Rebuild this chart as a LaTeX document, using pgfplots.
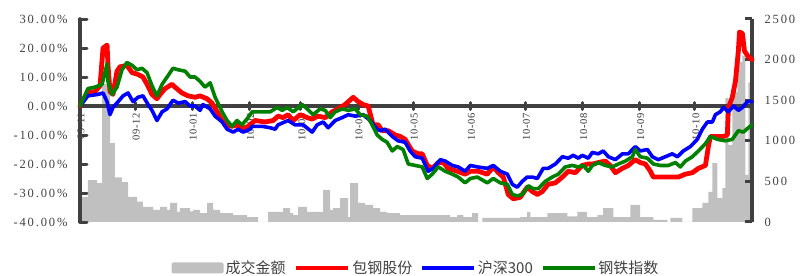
\documentclass[border=0pt]{standalone}
\usepackage{fontspec}
\usepackage{pgfplots}
\pgfplotsset{compat=1.18}
\setmainfont{Liberation Serif}
\newfontfamily\tickfont[LetterSpace=15]{Liberation Serif}
\newfontfamily\xtickfont[LetterSpace=6]{Liberation Serif}
\newfontfamily\cjk{Noto Sans CJK SC}
\definecolor{axisgray}{HTML}{404040}
\definecolor{bargray}{HTML}{C0C0C0}
\definecolor{bgreen}{HTML}{008000}
\pgfplotsset{
  thickaxis/.style={
    axis line style={line width=3.2pt, color=axisgray, -},
    every outer x axis line/.append style={line width=3.2pt, color=axisgray},
    every inner x axis line/.append style={line width=3.2pt, color=axisgray},
    every outer y axis line/.append style={line width=3.2pt, color=axisgray},
    every inner y axis line/.append style={line width=3.2pt, color=axisgray},
    every tick/.append style={line width=3pt, color=axisgray},
    major tick style={line width=3pt, color=axisgray},
  }
}
\begin{document}
\begin{tikzpicture}[x=1pt,y=1pt]
\useasboundingbox (-80,-54) rectangle (732,222);
% ---------- turnover (right axis) ----------
\begin{axis}[
  at={(0,0)}, anchor=south west, scale only axis,
  width=672pt, height=203pt,
  xmin=0, xmax=365, ymin=0, ymax=2500,
  axis x line=none, axis y line*=right,
  thickaxis, axis on top, clip=false,
  ytick={0,500,1000,1500,2000,2500}, ytick align=inside,
  major tick length=7pt,
  /pgf/number format/assume math mode=true,
  yticklabel style={font=\fontsize{12.5}{14}\selectfont\tickfont, text=axisgray, xshift=9pt},
  yticklabel={\pgfmathprintnumber[fixed,precision=0,1000 sep={}]{\tick}},
]
\addplot[fill=bargray, draw=none, const plot mark left] coordinates {
(0,310) (4.3,515) (9.2,480) (12,1700) (16.3,970) (19,550) (22.8,490) (26.1,310)
(31,250) (34.2,185) (39.7,150) (43.5,185) (47.3,150) (48.9,235) (52.7,125) (54.3,170)
(59.8,130) (61.4,150) (65.2,110) (69,235) (72.3,150) (76.1,110) (83.2,85) (90.8,60)
(96.7,0) (102.2,125) (110.3,170) (114.1,110) (115.8,85) (118.5,185) (123.4,125)
(132.1,395) (135.9,150) (137.5,170) (141.3,295) (145.7,60) (146.7,480) (151.1,235)
(154.9,210) (159.2,170) (163,125) (166.8,110) (173.9,85) (201.1,60) (204.9,85)
(208.2,60) (213,110) (216.3,0) (218.5,50) (239.1,60) (242.9,125) (244.6,60)
(253.8,110) (264.7,70) (270.1,125) (275.5,60) (281,85) (284.2,170) (289.7,60)
(298.9,210) (304.3,60) (311.4,25) (319,0) (320.7,50) (327.2,0) (332.6,170)
(338,235) (341.3,370) (343.5,725) (346.2,295) (348.9,420) (350.5,1525) (352.2,950)
(354.3,1600) (357.1,1970) (359.8,2050) (361.4,580) (363,1720) (365,1720)
} \closedcycle;
\draw[axisgray, line width=3.2pt] (rel axis cs:1,0) -- (rel axis cs:1,1);
\end{axis}
% ---------- returns (left axis) ----------
\begin{axis}[
  at={(0,0)}, anchor=south west, scale only axis,
  width=672pt, height=203pt,
  xmin=0, xmax=365, ymin=-40, ymax=30,
  axis x line=middle, axis y line=left,
  thickaxis, clip=false,
  hide obscured x ticks=false, hide obscured y ticks=false,
  xtick={0,30,61,92,120,151,181,212,242,273,304,334},
  xticklabels={09-11,09-12,10-01,10-02,10-03,10-04,10-05,10-06,10-07,10-08,10-09,10-10},
  xtick align=center, ytick align=inside,
  major tick length=7pt,
  ytick={-40,-30,-20,-10,0,10,20,30},
  /pgf/number format/assume math mode=true,
  yticklabel={\pgfmathprintnumber[fixed,fixed zerofill,precision=2]{\tick}\%},
  yticklabel style={font=\fontsize{12.5}{14}\selectfont\tickfont, text=axisgray, xshift=-9pt},
  xticklabel style={font=\fontsize{10.5}{12}\selectfont\xtickfont, text=black!80, rotate=90, anchor=east, yshift=-1pt},
  legend columns=-1,
  legend style={at={(0.5,-0.2266)}, anchor=center, draw=none, fill=none,
    font=\fontsize{15}{16}\selectfont\cjk, text=axisgray, inner sep=0pt,
    /tikz/every even column/.append style={column sep=6pt}},
  legend image code/.code={\draw[#1] (0pt,0pt) -- (52pt,0pt);},
  line join=round, line cap=round,
]
\draw[axisgray, line width=3.2pt] (rel axis cs:0,0) -- (rel axis cs:0,1);
\addlegendimage{fill=bargray, draw=none, legend image code/.code={\fill[bargray, rounded corners=1.5pt] (0pt,-5.5pt) rectangle (52pt,5.5pt);}}
\addlegendentry{成交金额}
% 包钢股份
\addplot[red, line width=4.8pt] coordinates {
(0,0) (4.3,4.5) (8.2,5) (10.9,7) (12.5,20) (14.7,21) (15.2,14) (16.3,5) (17.9,4)
(20.1,12) (21.7,13.5) (25.5,14) (28.3,11.5) (31,11) (34.2,10) (36.4,7.5) (39.1,4)
(41.8,2.5) (43.5,4) (46.2,6) (50,7.5) (51.6,6.5) (55.4,4.5) (58.7,3.5) (62.5,3)
(65.2,3.5) (69,2.5) (71.7,1) (74.5,-2) (77.2,-5) (79.9,-6.5) (82.6,-7) (85.3,-6.5)
(88,-8) (91.3,-7) (95.1,-5) (100.5,-5.5) (104.9,-5) (107.6,-3.5) (110.3,-4) (113,-3)
(115.8,-5) (119.6,-3) (123.4,-4) (126.1,-4.5) (129.3,-3.5) (133.2,-4) (137,-2)
(140.2,-1) (144,0.5) (148.4,3) (151.1,1.5) (153.8,0.5) (156.5,0) (159.2,-6.5)
(162,-6.5) (164.1,-8.5) (167.4,-8.5) (171.2,-10) (173.9,-10.5) (176.6,-11.5)
(180.4,-15.5) (183.7,-16.5) (185.9,-16.5) (188.6,-20.5) (191.3,-21.5) (194.6,-19.5)
(197.3,-19.5) (200,-21.5) (204.9,-22.5) (209.2,-23.5) (212,-22.5) (216.3,-22.5)
(221.2,-23.5) (224.5,-21) (227.2,-23) (229.9,-24.5) (232.6,-30.5) (235.3,-32)
(239.1,-31.5) (242.9,-28) (245.7,-29.5) (248.4,-30.5) (251.1,-29.5) (254.3,-27)
(258.2,-26.5) (262,-24.5) (265.2,-22.5) (269,-23) (272.8,-20.5) (276.1,-20)
(278.3,-20) (281.5,-19.5) (285.3,-19) (288,-20.5) (290.8,-23) (294.6,-21.5)
(297.8,-20.5) (301.6,-18.5) (304.3,-19.5) (307.1,-20) (309.8,-22.5) (311.4,-24.5)
(316.3,-24.5) (321.7,-24.5) (325,-24.5) (328.8,-23.5) (332.6,-23) (335.9,-21.5)
(339.7,-20.5) (341.3,-14) (342.4,-10.5) (346.2,-10.5) (349.5,-10.5) (351.6,-10)
(352.2,-0.5) (354.3,3) (356,8.5) (357.6,19) (358.2,25.5) (359.8,25) (360.9,19)
(363,17) (365,16)
};
\addlegendentry{包钢股份}
% 沪深300
\addplot[blue, line width=3.6pt] coordinates {
(0,0) (4.3,3.5) (9.8,4) (12.5,4.5) (14.7,1.5) (16.3,-3) (17.9,-0.5) (20.7,1.5)
(23.4,3.5) (26.1,4.5) (28.8,1.5) (31.5,3) (34.2,3.5) (37,0.5) (39.1,-1.5) (41.8,-5)
(44.6,-2) (47.3,-1) (50.5,2) (53.3,1) (57.1,1.5) (59.8,0) (62.5,0) (65.2,-1.5)
(66.8,0.5) (70.7,-1) (73.4,-3.5) (77.2,-5.5) (79.9,-8) (83.2,-9) (85.9,-8) (88.6,-9)
(92.4,-8) (93.5,-7) (98.9,-7) (103.3,-7.5) (106,-8) (107.6,-6.5) (113,-5)
(116.8,-6.5) (121.2,-6.5) (126.1,-9) (128.8,-6.5) (132.1,-5.5) (134.8,-7.5)
(138.6,-5) (142.4,-4) (145.7,-3) (149.5,-3.5) (153.8,-3) (157.6,-5) (161.4,-8)
(163,-8.5) (165.8,-8) (169.6,-10.5) (172.8,-12) (176.6,-12.5) (179.3,-15.5)
(182.1,-17.5) (185.9,-18) (189.1,-22.5) (191.8,-21.5) (195.7,-18.5) (198.4,-19)
(202.2,-20.5) (205.4,-21) (209.2,-22.5) (212,-20.5) (215.8,-21) (221.2,-21.5)
(224.5,-20.5) (228.3,-22.5) (232.1,-23.5) (234.8,-27) (237.5,-28) (240.2,-26)
(242.9,-24.5) (245.7,-24.5) (248.4,-25) (251.6,-21.5) (254.3,-21.5) (258.2,-20)
(262,-17.5) (265.2,-18) (267.9,-17) (270.7,-18) (272.8,-17) (276.1,-18) (278.3,-16)
(281.5,-16.5) (284.2,-15.5) (287,-17.5) (290.8,-18.5) (294.6,-16.5) (297.8,-16.5)
(301.6,-14) (304.3,-15.5) (308.2,-15) (310.9,-17.5) (314.1,-18.5) (317.9,-17.5)
(321.7,-16.5) (324.5,-17.5) (327.7,-15.5) (331.5,-14) (335.3,-11.5) (338,-8)
(340.8,-5.5) (343.5,-5.5) (345.1,-3) (347.8,-2) (349.5,-0.5) (352.2,-2) (354.9,0)
(357.6,-1.5) (359.8,-0.5) (362.5,1.5) (365,1.5)
};
\addlegendentry{沪深300}
% 钢铁指数
\addplot[bgreen, line width=3.6pt] coordinates {
(0,0) (4.3,6) (8.2,6.5) (12,7.5) (14.7,14.5) (15.2,8.5) (17.4,4) (20.1,6.5)
(22.8,12.5) (25.5,15) (28.3,14) (31,12.5) (33.7,13) (36.4,11.5) (39.1,7) (41.8,3.5)
(44.6,7.5) (47.3,10) (50.5,13) (53.3,12.5) (57.1,12) (59.8,10) (62.5,10) (65.2,8.5)
(67.9,6.5) (70.7,8) (73.4,3) (77.2,-2) (79.9,-5) (82.6,-7) (85.3,-5) (88,-6.5)
(91.3,-4) (93.5,-2) (96.7,-2) (103.3,-2) (107.1,-0.5) (109.8,-1.5) (112.5,-0.5)
(115.8,-2) (120.7,0.5) (123.4,-1) (126.6,-3) (130.4,-1) (133.2,-1.5) (135.9,-4)
(138.6,-2) (142.4,-1) (145.7,-1.5) (149.5,-1) (152.2,-3) (156,-3.5) (158.7,-6.5)
(161.4,-10) (164.1,-11.5) (166.8,-12.5) (169.6,-15.5) (172.3,-14) (175.5,-15)
(178.3,-20) (182.1,-20.5) (185.9,-21) (188.6,-25) (191.3,-23.5) (194.6,-21)
(198.4,-22.5) (202.2,-23.5) (205.4,-24.5) (209.2,-26.5) (212,-25) (215.8,-24.5)
(221.2,-26.5) (224.5,-25) (228.3,-26.5) (232.1,-27) (234.8,-30.5) (237.5,-31)
(240.2,-30.5) (243.5,-27.5) (246.2,-28.5) (248.9,-28.5) (252.7,-26) (256.5,-24.5)
(259.8,-23.5) (263.6,-21) (267.4,-20.5) (270.7,-21) (273.4,-20.5) (276.1,-22.5)
(278.3,-20.5) (281.5,-19.5) (285.3,-20.5) (289.1,-21) (292.4,-20) (296.2,-19)
(300,-17.5) (301.6,-15) (304.3,-17.5) (308.2,-18) (311.4,-20) (315.2,-20.5)
(319.6,-20.5) (323.4,-19.5) (326.1,-21) (328.8,-19) (332.6,-17.5) (335.9,-15.5)
(339.7,-13) (342.4,-10.5) (346.2,-11.5) (350.5,-12) (354.3,-11.5) (357.6,-8.5)
(360.3,-9) (363,-7.5) (365,-6.5)
};
\addlegendentry{钢铁指数}
\end{axis}
\end{tikzpicture}
\end{document}
